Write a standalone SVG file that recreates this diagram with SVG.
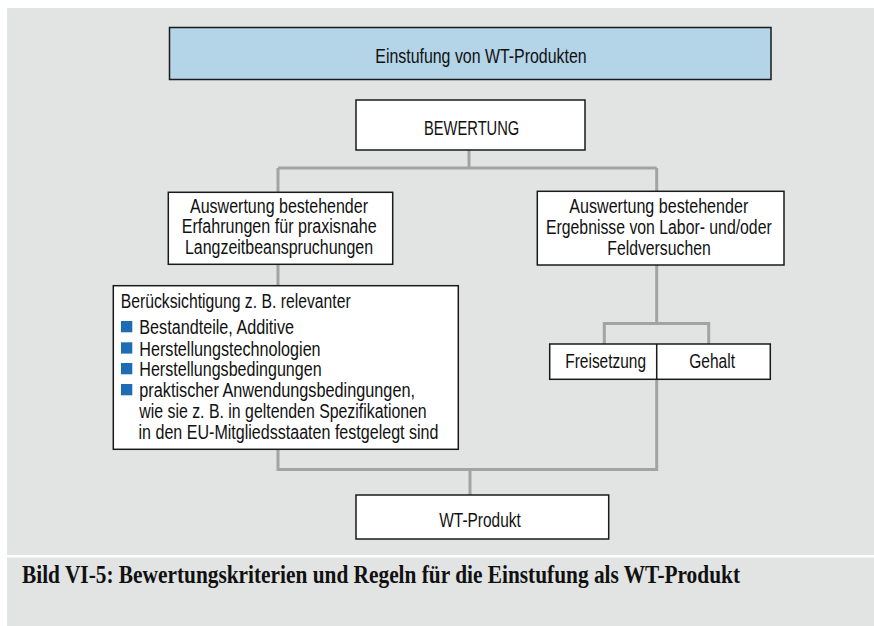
<svg xmlns="http://www.w3.org/2000/svg" width="874" height="626" viewBox="0 0 874 626">
<style>
.box{fill:#ffffff;stroke:#1a1a1a;stroke-width:1.5}
.t{font-family:"Liberation Sans",Arial,sans-serif;font-size:19.5px;fill:#111}
.cap{font-family:"Liberation Serif","Times New Roman",serif;font-size:25px;font-weight:bold;fill:#111}
.c{fill:none;stroke:#a3a3a3;stroke-width:3}
.b{fill:#1c6db3}
</style>
<rect x="0" y="0" width="874" height="626" fill="#ffffff"/>
<rect x="7" y="8" width="867" height="547" fill="#e2e3e3"/>
<rect x="7" y="557.5" width="867" height="68.5" fill="#e2e3e3"/>

<g id="connectors">
<path class="c" d="M469,150 V168 M278,168 H656.7 M278,168 V192 M656.7,168 V191"/>
<path class="c" d="M278,264 V286"/>
<path class="c" d="M656.7,265 V323.5 M604.3,323.5 H708.7 M604.3,322 V344 M708.7,322 V344"/>
<path class="c" d="M656.7,379 V469.5 H278 V449 M470,469.5 V495"/>
</g>

<g id="top">
<rect x="169.5" y="27.5" width="601.5" height="52" fill="#b4d4e8" stroke="#1a1a1a" stroke-width="1.5"/>
<text class="t" x="375.3" y="62.7" textLength="211.3" lengthAdjust="spacingAndGlyphs">Einstufung von WT-Produkten</text>
</g>

<g id="bewertung">
<rect class="box" x="356" y="100" width="229" height="50"/>
<text class="t" x="424" y="135" textLength="95.3" lengthAdjust="spacingAndGlyphs">BEWERTUNG</text>
</g>

<g id="erfahrungen">
<rect class="box" x="168.3" y="192.3" width="224.4" height="72"/>
<text class="t" x="190" y="212.5" textLength="178" lengthAdjust="spacingAndGlyphs">Auswertung bestehender</text>
<text class="t" x="181.7" y="233.3" textLength="195" lengthAdjust="spacingAndGlyphs">Erfahrungen für praxisnahe</text>
<text class="t" x="185" y="254" textLength="188" lengthAdjust="spacingAndGlyphs">Langzeitbeanspruchungen</text>
</g>

<g id="ergebnisse">
<rect class="box" x="537.3" y="191.3" width="246.7" height="73.7"/>
<text class="t" x="569.3" y="213" textLength="179" lengthAdjust="spacingAndGlyphs">Auswertung bestehender</text>
<text class="t" x="546" y="234" textLength="225.7" lengthAdjust="spacingAndGlyphs">Ergebnisse von Labor- und/oder</text>
<text class="t" x="607.3" y="254.5" textLength="103.4" lengthAdjust="spacingAndGlyphs">Feldversuchen</text>
</g>

<g id="beruecksichtigung">
<rect class="box" x="113.3" y="285.7" width="345" height="163.6"/>
<text class="t" x="120.7" y="308.3" textLength="230" lengthAdjust="spacingAndGlyphs">Berücksichtigung z. B. relevanter</text>
<rect class="b" x="121" y="321" width="11.3" height="11.3"/>
<text class="t" x="139.3" y="334.3" textLength="154.7" lengthAdjust="spacingAndGlyphs">Bestandteile, Additive</text>
<rect class="b" x="121" y="342.3" width="11.3" height="11.3"/>
<text class="t" x="139.3" y="355.6" textLength="181.3" lengthAdjust="spacingAndGlyphs">Herstellungstechnologien</text>
<rect class="b" x="121" y="363" width="11.3" height="11.3"/>
<text class="t" x="139.3" y="376.3" textLength="182.3" lengthAdjust="spacingAndGlyphs">Herstellungsbedingungen</text>
<rect class="b" x="121" y="384" width="11.3" height="11.3"/>
<text class="t" x="139.3" y="397.3" textLength="275.7" lengthAdjust="spacingAndGlyphs">praktischer Anwendungsbedingungen,</text>
<text class="t" x="139.3" y="418.3" textLength="287.4" lengthAdjust="spacingAndGlyphs">wie sie z. B. in geltenden Spezifikationen</text>
<text class="t" x="138.5" y="439.3" textLength="300" lengthAdjust="spacingAndGlyphs">in den EU-Mitgliedsstaaten festgelegt sind</text>
</g>

<g id="freisetzung-gehalt">
<rect class="box" x="549.7" y="344" width="220.6" height="35.3"/>
<line x1="656.7" y1="344" x2="656.7" y2="379.3" stroke="#1a1a1a" stroke-width="1.5"/>
<text class="t" x="565.3" y="368.3" textLength="80.7" lengthAdjust="spacingAndGlyphs">Freisetzung</text>
<text class="t" x="689.3" y="368.3" textLength="45.7" lengthAdjust="spacingAndGlyphs">Gehalt</text>
</g>

<g id="wt-produkt">
<rect class="box" x="356" y="495" width="252.7" height="44"/>
<text class="t" x="439.3" y="526.7" textLength="81.4" lengthAdjust="spacingAndGlyphs">WT-Produkt</text>
</g>

<text class="cap" x="22" y="582.7" textLength="718" lengthAdjust="spacingAndGlyphs">Bild VI-5: Bewertungskriterien und Regeln für die Einstufung als WT-Produkt</text>
</svg>
